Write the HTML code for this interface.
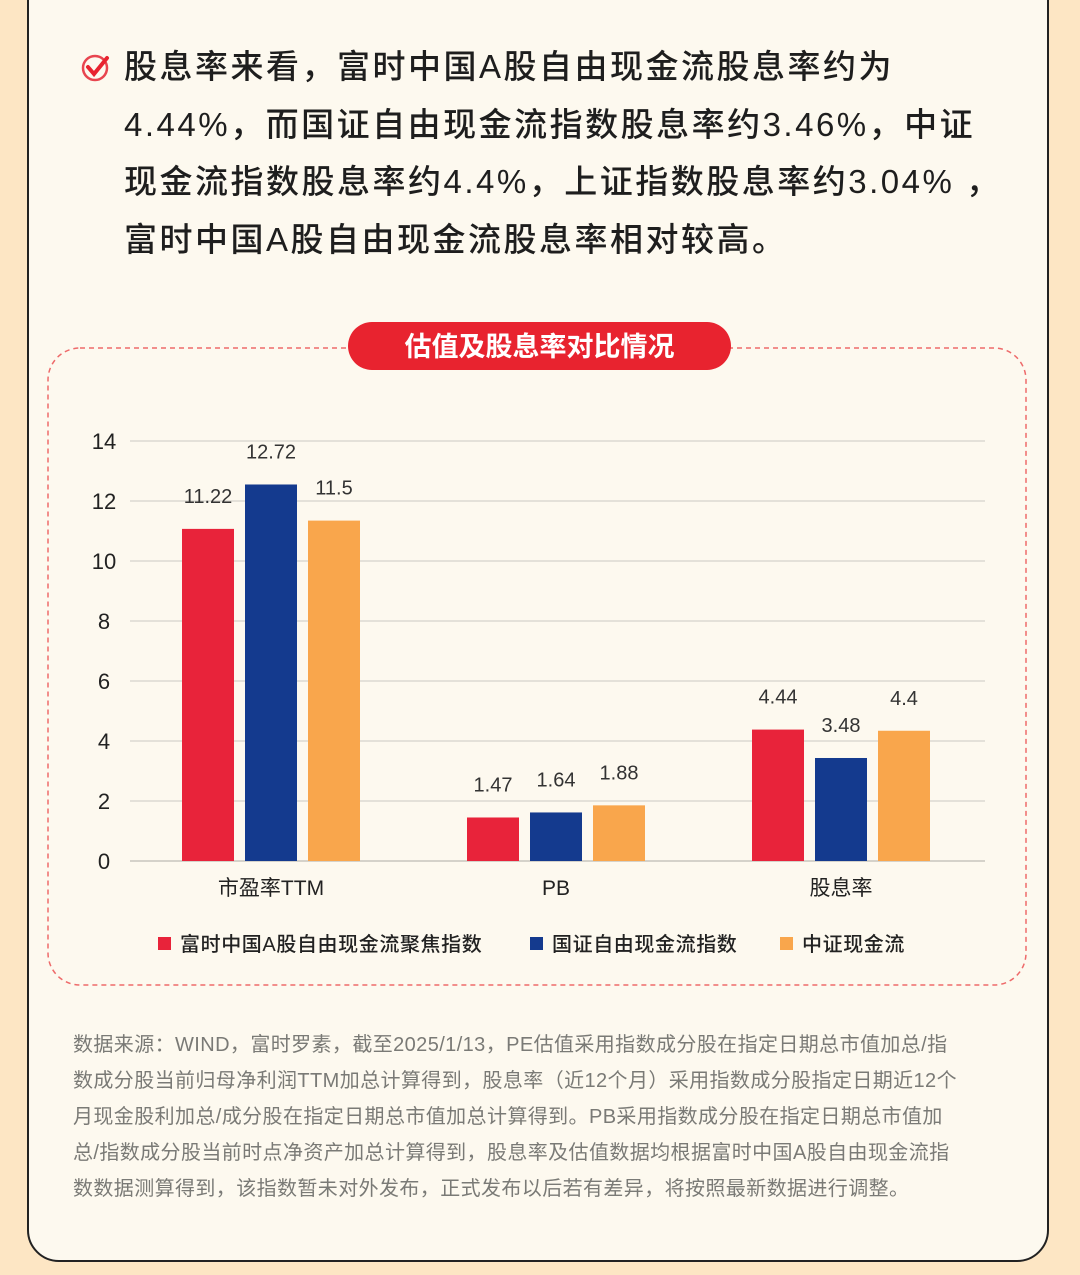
<!DOCTYPE html>
<html><head><meta charset="utf-8"><style>
body{margin:0;width:1080px;height:1275px;background:#fde6c4;font-family:"Liberation Sans","Noto Sans CJK SC",sans-serif;position:relative;overflow:hidden}
.card{position:absolute;left:27px;top:-40px;width:1022px;height:1302px;background:#fdf9ef;border:2.5px solid #222;border-radius:32px;box-sizing:border-box}
.intro{position:absolute;left:124px;top:38px;font-size:33px;letter-spacing:2.5px;line-height:57.5px;color:#1e1e1e;font-weight:500;white-space:nowrap}
.foot{position:absolute;left:73px;top:1027px;font-size:20px;letter-spacing:0.4px;line-height:36px;color:#7a7a76;white-space:nowrap}
</style></head><body>
<div class="card"></div>
<svg style="position:absolute;left:80px;top:52px" width="32" height="32"><circle cx="15" cy="16" r="12" fill="none" stroke="#e8454f" stroke-width="2.5"/><path d="M8 15 L14 22 L27 6" fill="none" stroke="#e8232f" stroke-width="4" stroke-linecap="round"/></svg>
<div class="intro">股息率来看，富时中国A股自由现金流股息率约为<br>4.44%，而国证自由现金流指数股息率约3.46%，中证<br>现金流指数股息率约4.4%，上证指数股息率约3.04% ，<br>富时中国A股自由现金流股息率相对较高。</div>
<svg id="chart" style="position:absolute;left:0;top:0" width="1080" height="1010">
<rect x="48" y="348" width="978" height="637" rx="32" fill="none" stroke="#ee6a6a" stroke-width="1.5" stroke-dasharray="5,4"/>
<rect x="348" y="322" width="383" height="48" rx="24" fill="#e8232f"/>
<text x="539.5" y="356" text-anchor="middle" font-size="27" font-weight="bold" fill="#fff">估值及股息率对比情况</text>
<g id="g"></g>
</svg>
<div class="foot">数据来源：WIND，富时罗素，截至2025/1/13，PE估值采用指数成分股在指定日期总市值加总/指<br>数成分股当前归母净利润TTM加总计算得到，股息率（近12个月）采用指数成分股指定日期近12个<br>月现金股利加总/成分股在指定日期总市值加总计算得到。PB采用指数成分股在指定日期总市值加<br>总/指数成分股当前时点净资产加总计算得到，股息率及估值数据均根据富时中国A股自由现金流指<br>数数据测算得到，该指数暂未对外发布，正式发布以后若有差异，将按照最新数据进行调整。</div>
<script>
const categories=["市盈率TTM","PB","股息率"];
const seriesNames=["富时中国A股自由现金流聚焦指数","国证自由现金流指数","中证现金流"];
const s1=[11.22,1.47,4.44];
const s2=[12.72,1.64,3.48];
const s3=[11.5,1.88,4.4];
const ticks=[0,2,4,6,8,10,12,14];
const colors=["#e8233a","#143a8e","#f9a64c"];
const NS="http://www.w3.org/2000/svg",g=document.getElementById('g');
const y=v=>861-v*29.6, x0=130,gw=285;
const cx=i=>x0+gw*i+141;
function mk(t,a,txt){const e=document.createElementNS(NS,t);for(const k in a)e.setAttribute(k,a[k]);if(txt!=null)e.textContent=txt;g.appendChild(e);return e;}
ticks.forEach(t=>{const yy=861-t*30;
const l=mk('line',{x1:130,x2:985,y1:yy,y2:yy,stroke:t?'#dcd9d2':'#c8c5be','stroke-width':1.5});


const tx=mk('text',{x:104,y:yy+8,'text-anchor':'middle','font-size':22,fill:'#222'},t);

});
[s1,s2,s3].forEach((s,j)=>s.forEach((v,i)=>{const x=cx(i)+(j-1)*63-26;
const r=mk('rect',{x:x,y:y(v),width:52,height:861-y(v),fill:colors[j]});


const t=mk('text',{x:x+26,y:y(v)-26,'text-anchor':'middle','font-size':20,fill:'#333'},v);

}));
categories.forEach((c,i)=>{const t=mk('text',{x:cx(i),y:895,'text-anchor':'middle','font-size':21,fill:'#222'},c);

});
const lx=[158,530,780];
seriesNames.forEach((n,j)=>{const r=mk('rect',{x:lx[j],y:937,width:13,height:13,fill:colors[j]});


const t=mk('text',{x:lx[j]+22,y:951,'font-size':20,'letter-spacing':0.6,'font-weight':500,fill:'#222'},n);

});
</script>
</body></html>
